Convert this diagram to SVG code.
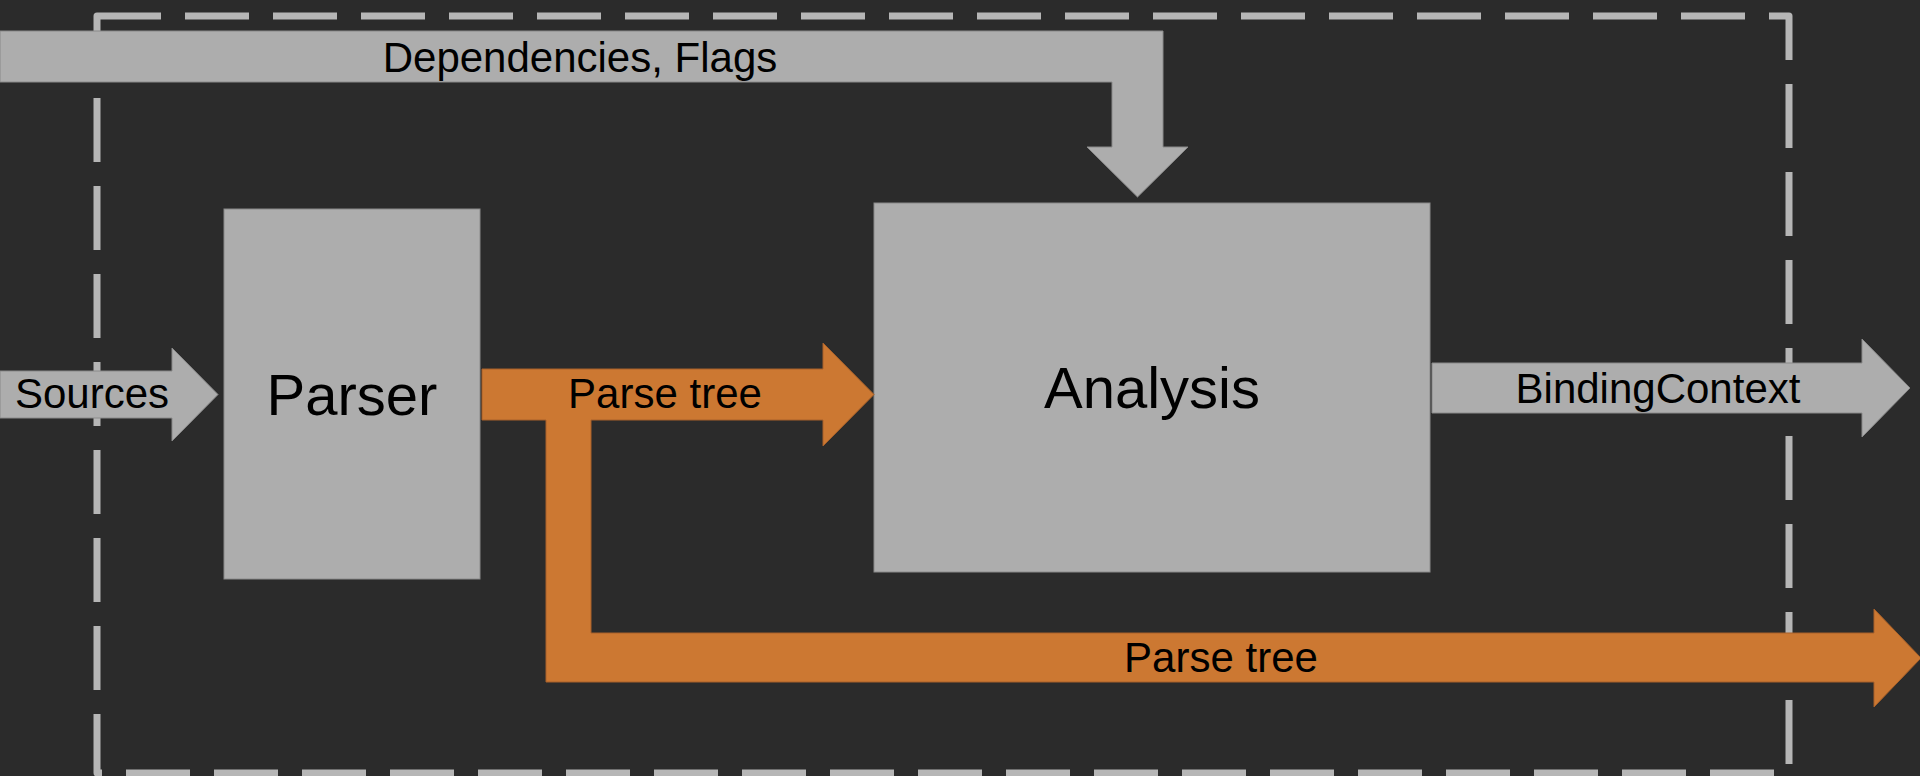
<svg xmlns="http://www.w3.org/2000/svg" width="1920" height="776" viewBox="0 0 1920 776">
<style>
.bg{fill:#2b2b2b}
.border{fill:none;stroke:#b6b6b6;stroke-width:7;stroke-dasharray:64 24;stroke-linejoin:round}
.node{fill:#adadad;stroke:#8a8a8a;stroke-width:1}
.gray{fill:#adadad;stroke:#8a8a8a;stroke-width:1}
.orange{fill:#cc7832;stroke:#a8612a;stroke-width:1}
.lbl{font-family:"Liberation Sans",Arial,sans-serif;font-size:42px;fill:#000;text-anchor:middle}
.big{font-family:"Liberation Sans",Arial,sans-serif;font-size:58px;fill:#000;text-anchor:middle}
</style>
<rect class="bg" x="0" y="0" width="1920" height="776"/>
<path id="boundary" class="border" d="M97,16 H1789 V773 H97 Z"/>
<g id="parser">
<rect class="node" x="224" y="209" width="256" height="370"/>
<text class="big" x="352" y="415">Parser</text>
</g>
<g id="analysis">
<rect class="node" x="874" y="203" width="556" height="369"/>
<text class="big" x="1152" y="408">Analysis</text>
</g>
<g id="connectors">
<g id="dependencies">
<polygon class="gray" points="0,31 1163,31 1163,147 1188,147 1137.5,197 1087,147 1112,147 1112,82 0,82"/>
<text class="lbl" x="580" y="72">Dependencies, Flags</text>
</g>
<g id="sources">
<polygon class="gray" points="0,371 172,371 172,348 218,394.5 172,441 172,418 0,418"/>
<text class="lbl" x="92" y="408">Sources</text>
</g>
<g id="parsetree">
<path class="orange" d="M482,369 H823 V343 L874,394.5 L823,446 V420 H591 V633 H1874 V609 L1921,658 L1874,707 V682 H546 V420 H482 Z"/>
<text class="lbl" x="665" y="408">Parse tree</text>
<text class="lbl" x="1221" y="672">Parse tree</text>
</g>
<g id="bindingcontext">
<polygon class="gray" points="1432,363 1862,363 1862,339 1910,388 1862,437 1862,413 1432,413"/>
<text class="lbl" x="1658" y="403">BindingContext</text>
</g>
</g>
</svg>
